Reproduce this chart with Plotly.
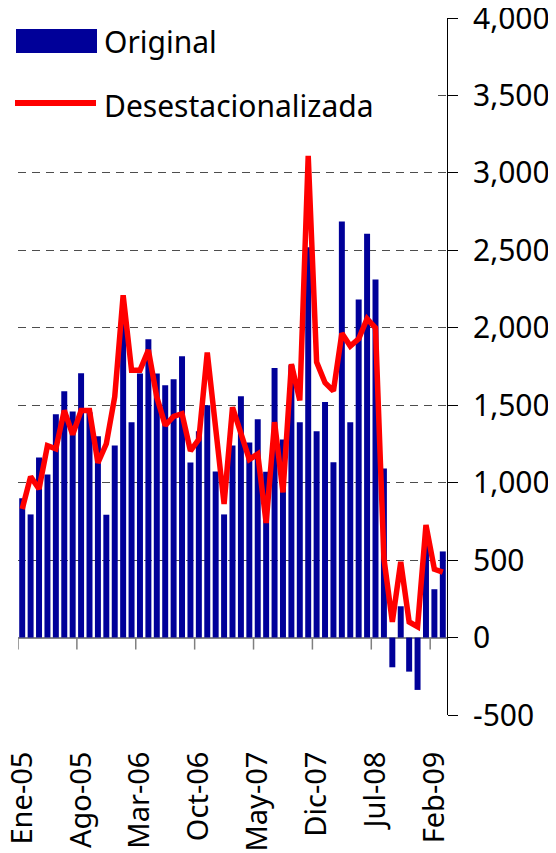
import plotly.graph_objects as go

# ---- data ----
month_names = ["Ene", "Feb", "Mar", "Abr", "May", "Jun", "Jul", "Ago", "Sep", "Oct", "Nov", "Dic"]
categories = [f"{month_names[m]}-{y:02d}" for y in range(5, 10) for m in range(12)][:51]

original = [900, 795, 1163, 1053, 1442, 1590, 1460, 1706, 1455, 1299,
            793, 1240, 2134, 1390, 1705, 1926, 1705, 1629, 1668, 1816,
            1131, 1332, 1500, 1072, 795, 1240, 1558, 1260, 1409, 1071,
            1740, 1279, 1758, 1390, 2520, 1332, 1520, 1132, 2686, 1390,
            2182, 2607, 2311, 1092, -192, 202, -220, -338, 647, 312, 556]

desestacionalizada = [830, 1039, 959, 1239, 1218, 1466, 1310, 1466, 1466, 1128,
                      1251, 1555, 2210, 1726, 1726, 1856, 1553, 1370, 1428, 1445,
                      1205, 1280, 1840, 1350, 862, 1487, 1315, 1150, 1185, 740,
                      1391, 937, 1765, 1531, 3110, 1778, 1645, 1592, 1964, 1882,
                      1929, 2058, 2000, 511, 101, 488, 101, 70, 727, 441, 422]

x_tick_labels = categories[::7]
y_tick_vals = [-500, 0, 500, 1000, 1500, 2000, 2500, 3000, 3500, 4000]
y_tick_text = ["-500", "0", "500", "1,000", "1,500", "2,000", "2,500", "3,000", "3,500", "4,000"]
series_names = ["Original", "Desestacionalizada"]

# ---- layout geometry (pixels, in page coordinates) ----
OFF = 8                      # default page body margin
W, H = 556 - OFF, 853 - OFF  # figure size so it fills the window
PL, PR, PT, PB = 18, 447, 18, 715   # plot area edges in page pixels
L, T = PL - OFF, PT - OFF
R, B = W - (PR - OFF), H - (PB - OFF)
PW, PH = PR - PL, PB - PT

def px_x(p):
    return (p - PL) / PW

def px_y(p):
    return (PB - p) / PH

BLUE = "#000099"
RED = "#FF0000"
FONT = "Noto Sans"

fig = go.Figure()
fig.add_trace(go.Bar(x=categories, y=original, marker_color=BLUE,
                     marker_line_width=0, name=series_names[0], showlegend=False))
fig.add_trace(go.Scatter(x=categories, y=desestacionalizada, mode="lines",
                         line=dict(color=RED, width=5.5), name=series_names[1],
                         showlegend=False))

shapes = []
# tick marks hanging from the zero line at every 7th category boundary
for k in range(0, len(categories), 7):
    shapes.append(dict(type="line", xref="x", yref="y", ysizemode="pixel",
                       yanchor=0, x0=k - 0.5, x1=k - 0.5, y0=0, y1=-12,
                       line=dict(color="#808080", width=1.5)))
# legend background
shapes.append(dict(type="rect", xref="paper", yref="paper", layer="above",
                   x0=px_x(8), x1=px_x(437), y0=px_y(128), y1=px_y(8),
                   fillcolor="white", line=dict(width=0)))
# legend swatches
shapes.append(dict(type="rect", xref="paper", yref="paper", layer="above",
                   x0=px_x(16), x1=px_x(97), y0=px_y(53), y1=px_y(29),
                   fillcolor=BLUE, line=dict(width=0)))
shapes.append(dict(type="line", xref="paper", yref="paper", layer="above",
                   x0=px_x(15), x1=px_x(96), y0=px_y(103), y1=px_y(103),
                   line=dict(color=RED, width=6)))

annotations = [
    dict(text=series_names[0], xref="paper", yref="paper", x=px_x(102), y=px_y(42),
         xanchor="left", yanchor="middle", showarrow=False,
         font=dict(family=FONT, size=30, color="black")),
    dict(text=series_names[1], xref="paper", yref="paper", x=px_x(102), y=px_y(106),
         xanchor="left", yanchor="middle", showarrow=False,
         font=dict(family=FONT, size=30, color="black")),
]

fig.update_layout(
    width=W, height=H,
    margin=dict(l=L, r=R, t=T, b=B, pad=0, autoexpand=False),
    paper_bgcolor="white", plot_bgcolor="white",
    bargap=0.29,
    font=dict(family=FONT, size=30, color="black"),
    shapes=shapes, annotations=annotations,
    showlegend=False,
    xaxis=dict(type="category", range=[-0.5, len(categories) - 0.5],
               tickmode="array", tickvals=x_tick_labels, ticktext=x_tick_labels,
               tickangle=-90, ticks="outside", ticklen=24, automargin=False,
               tickcolor="rgba(0,0,0,0)", showgrid=False, zeroline=False,
               showline=False, ticklabeloverflow="allow",
               tickfont=dict(family=FONT, size=29)),
    yaxis=dict(side="right", range=[-500, 4000], tickmode="array",
               tickvals=y_tick_vals, ticktext=y_tick_text, automargin=False,
               showline=True, linecolor="black", linewidth=1,
               ticks="outside", ticklen=10, tickcolor="black", tickwidth=1,
               showgrid=True, gridcolor="#4d4d4d", gridwidth=1.2, griddash="8px,6px",
               zeroline=True, zerolinecolor="#868686", zerolinewidth=1.5,
               ticklabelstandoff=9, ticklabeloverflow="allow",
               tickfont=dict(family=FONT, size=30)),
)

fig.write_html("out.html")
